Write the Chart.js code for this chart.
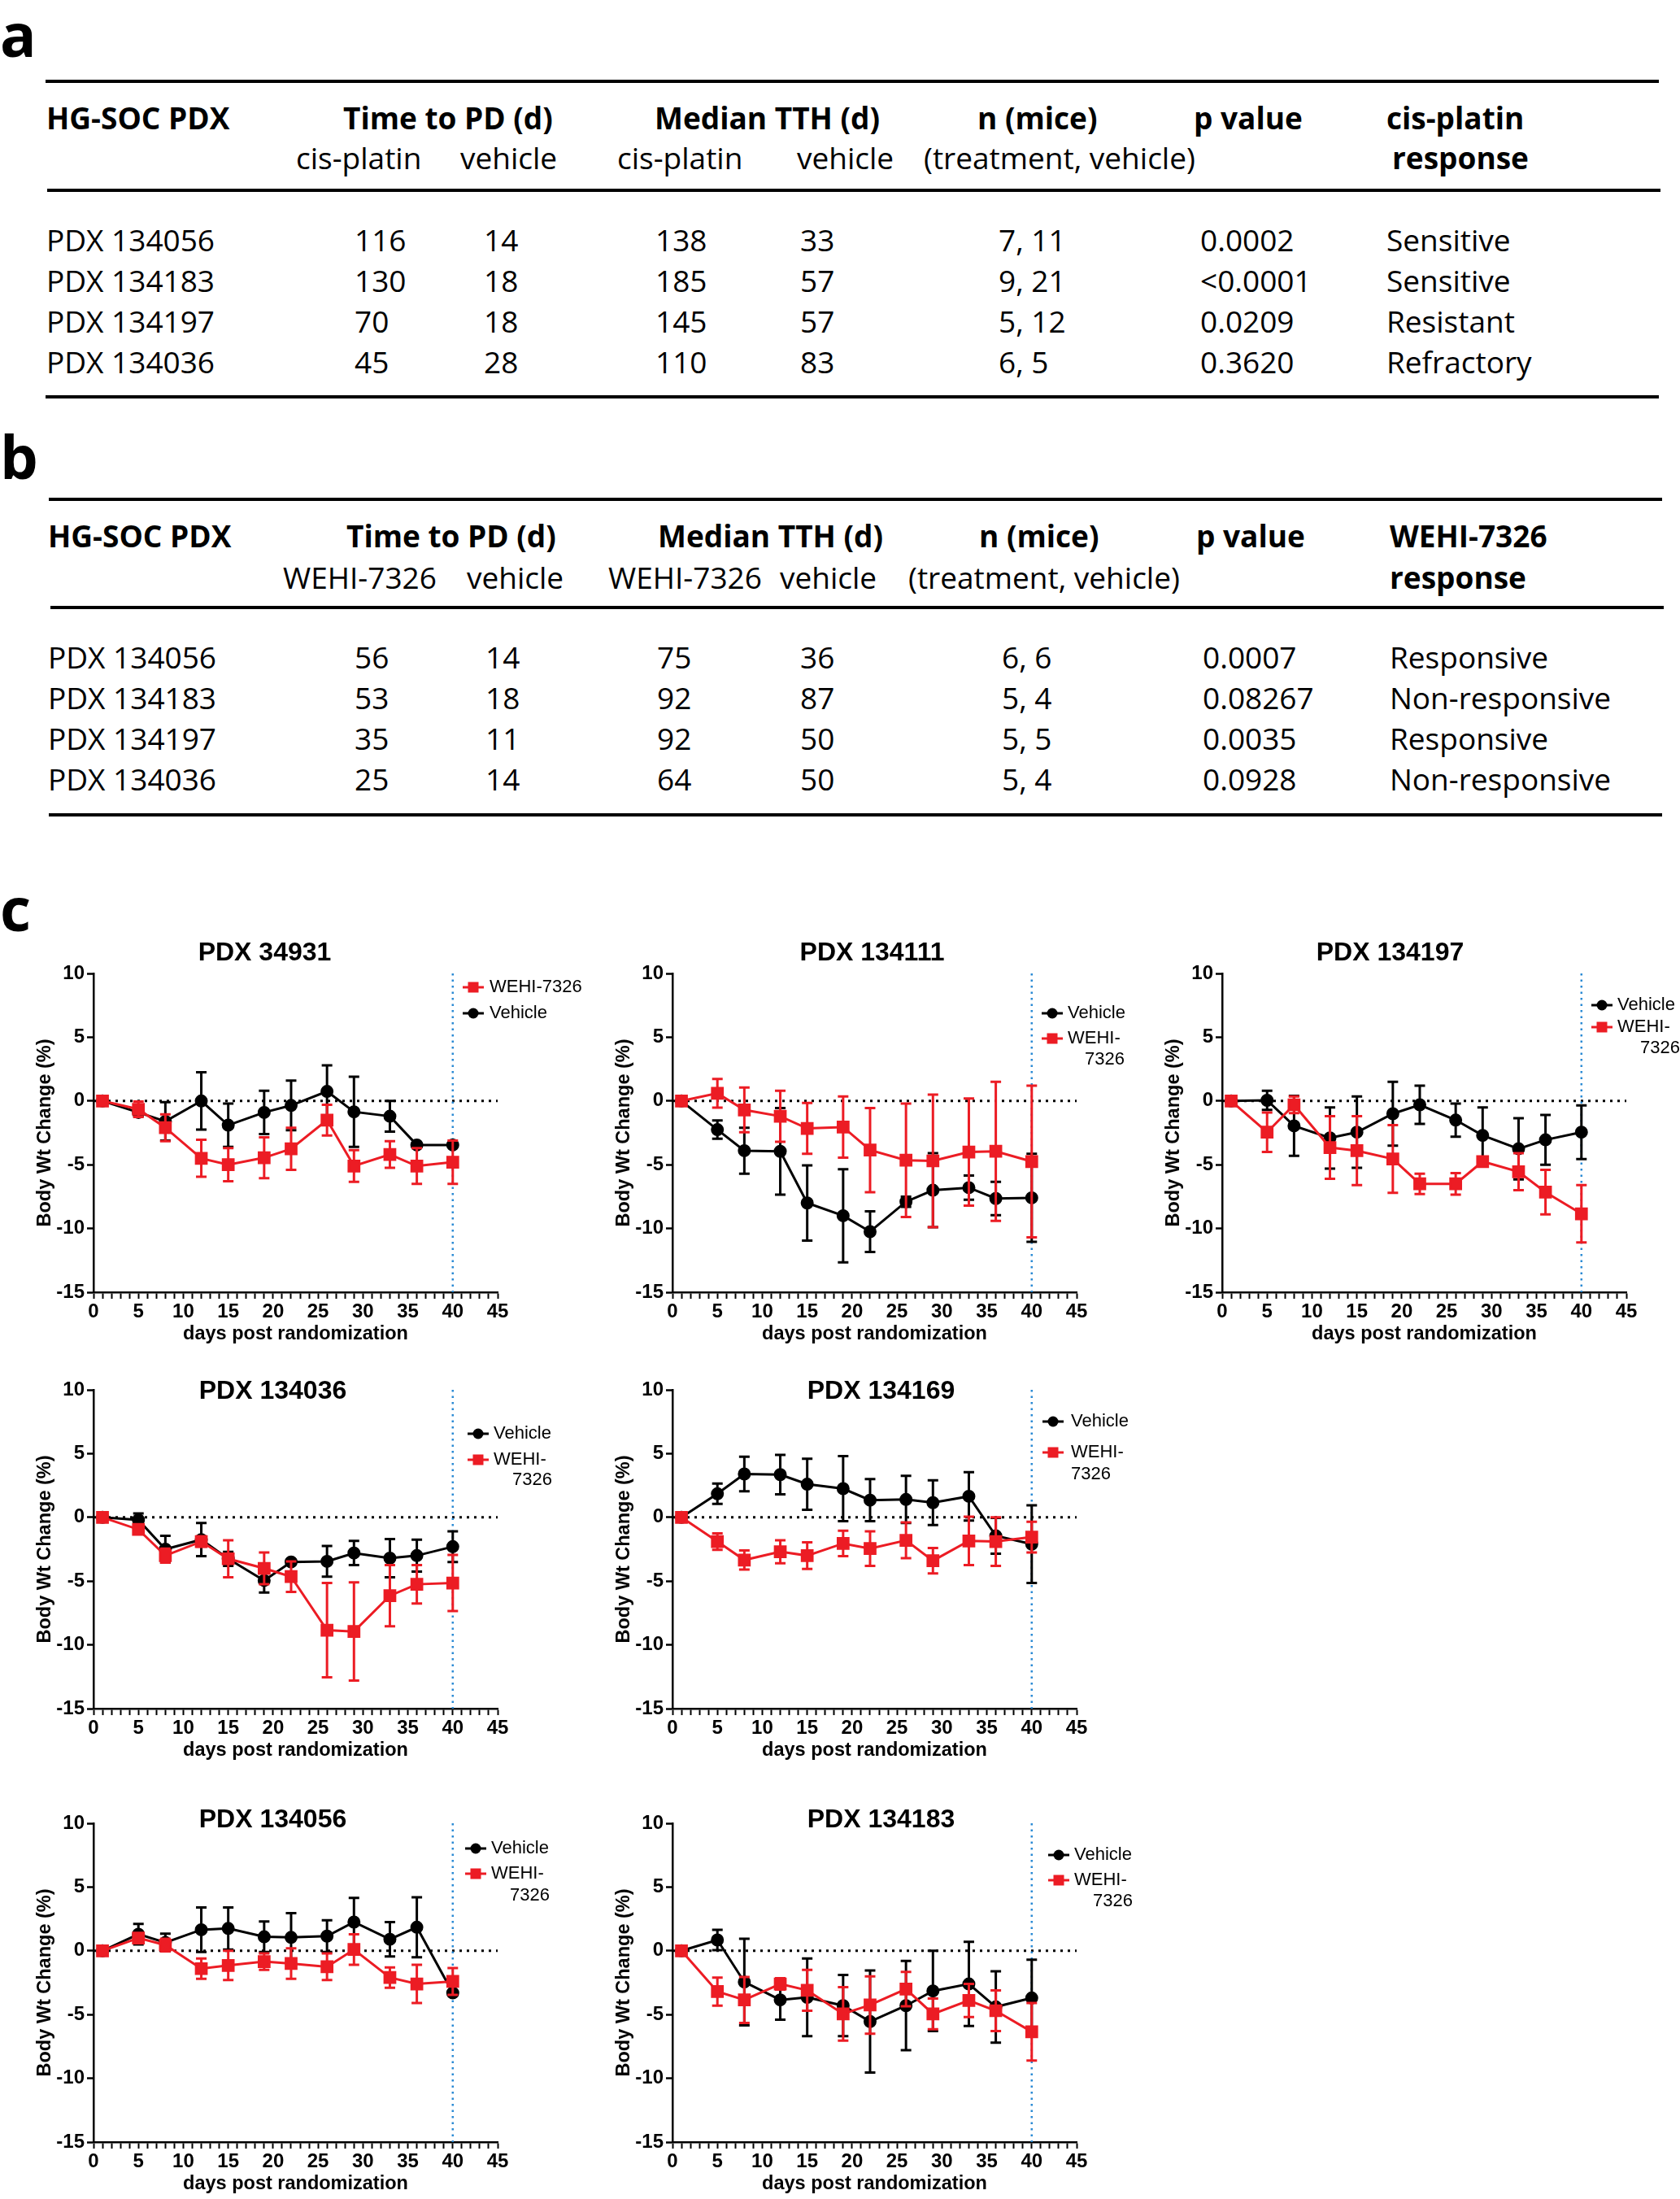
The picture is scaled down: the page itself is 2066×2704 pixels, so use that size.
<!DOCTYPE html>
<html>
<head>
<meta charset="utf-8">
<script src="https://cdn.jsdelivr.net/npm/chart.js@4.4.0/dist/chart.umd.min.js"></script>
<style>
html, body { margin: 0; padding: 0; background: #fff; }
body { width: 2066px; height: 2704px; position: relative; overflow: hidden; font-family: 'Open Sans', sans-serif; color: #000; }
.t { position: absolute; font-size: 37px; line-height: 46px; white-space: nowrap; transform: translateY(-50%); }
.b { font-weight: 700; }
.rule { position: absolute; height: 4px; background: #000; }
.lab { position: absolute; font-size: 74px; font-weight: 700; line-height: 1; }
canvas { position: absolute; }
</style>
</head>
<body>
<script>
'use strict';

// Table a (cis-platin)
const pdxNames = ['PDX 134056', 'PDX 134183', 'PDX 134197', 'PDX 134036'];
const ttpCis = ['116', '130', '70', '45'];
const ttpVehA = ['14', '18', '18', '28'];
const tthCis = ['138', '185', '145', '110'];
const tthVehA = ['33', '57', '57', '83'];
const miceA = ['7, 11', '9, 21', '5, 12', '6, 5'];
const pValA = ['0.0002', '<0.0001', '0.0209', '0.3620'];
const respA = ['Sensitive', 'Sensitive', 'Resistant', 'Refractory'];

// Table b (WEHI-7326)
const ttpWehi = ['56', '53', '35', '25'];
const ttpVehB = ['14', '18', '11', '14'];
const tthWehi = ['75', '92', '92', '64'];
const tthVehB = ['36', '87', '50', '50'];
const miceB = ['6, 6', '5, 4', '5, 5', '5, 4'];
const pValB = ['0.0007', '0.08267', '0.0035', '0.0928'];
const respB = ['Responsive', 'Non-responsive', 'Responsive', 'Non-responsive'];

// Panel c : body weight change (%), mean and error
const days = [1, 5, 8, 12, 15, 19, 22, 26, 29, 33, 36, 40];
const xTickLabels = [0, 5, 10, 15, 20, 25, 30, 35, 40, 45];
const yTickLabels = [10, 5, 0, -5, -10, -15];

const veh34931 = [0, -0.9, -1.6, 0, -1.9, -0.9, -0.35, 0.75, -0.85, -1.2, -3.45, -3.45];
const veh34931Err = [0, 0.3, 1.5, 2.25, 1.7, 1.7, 1.95, 2.05, 2.75, 1.2, 0.1, 0.1];
const wehi34931 = [0, -0.65, -2.1, -4.5, -5.0, -4.45, -3.75, -1.5, -5.1, -4.2, -5.1, -4.8];
const wehi34931Err = [0, 0.6, 1.05, 1.45, 1.3, 1.6, 1.65, 1.2, 1.25, 1.05, 1.4, 1.7];

const veh134111 = [0, -2.25, -3.9, -3.95, -8.0, -9.0, -10.25, -7.9, -7.0, -6.8, -7.65, -7.6];
const veh134111Err = [0, 0.72, 1.8, 3.4, 2.95, 3.65, 1.6, 0.4, 2.9, 0.95, 1.3, 3.45];
const wehi134111 = [0, 0.6, -0.7, -1.2, -2.15, -2.05, -3.85, -4.65, -4.7, -4.0, -3.95, -4.75];
const wehi134111Err = [0, 1.13, 1.75, 2.0, 2.0, 2.4, 3.3, 4.45, 5.2, 4.2, 5.45, 5.95];

const veh134197 = [0, 0.05, -1.95, -2.9, -2.45, -1.0, -0.3, -1.5, -2.7, -3.75, -3.05, -2.45];
const veh134197Err = [0, 0.75, 2.35, 2.4, 2.8, 2.5, 1.5, 1.3, 2.2, 2.4, 1.95, 2.1];
const wehi134197 = [0, -2.45, -0.3, -3.65, -3.9, -4.55, -6.5, -6.5, -4.75, -5.55, -7.15, -8.85];
const wehi134197Err = [0, 1.55, 0.65, 2.45, 2.7, 2.65, 0.8, 0.85, 0.2, 1.45, 1.75, 2.25];

const veh134036 = [0, -0.2, -2.5, -1.75, -3.25, -4.95, -3.5, -3.45, -2.8, -3.2, -3.0, -2.3];
const veh134036Err = [0, 0.5, 1.05, 1.3, 0.55, 0.95, 0.2, 1.2, 0.95, 1.5, 1.25, 1.2];
const wehi134036 = [0, -0.95, -3.0, -1.9, -3.25, -4.0, -4.65, -8.85, -8.95, -6.15, -5.25, -5.15];
const wehi134036Err = [0, 0.35, 0.55, 0.4, 1.45, 1.25, 1.2, 3.7, 3.85, 2.4, 1.5, 2.2];

const veh134169 = [0, 1.85, 3.4, 3.35, 2.6, 2.25, 1.35, 1.4, 1.15, 1.65, -1.45, -2.1];
const veh134169Err = [0, 0.8, 1.35, 1.55, 2.0, 2.55, 1.65, 1.85, 1.75, 1.9, 1.4, 3.05];
const wehi134169 = [0, -1.9, -3.35, -2.7, -3.0, -2.05, -2.45, -1.8, -3.4, -1.85, -1.9, -1.55];
const wehi134169Err = [0, 0.65, 0.75, 0.9, 1.05, 1.0, 1.35, 1.4, 1.0, 1.9, 1.9, 1.2];

const veh134056 = [0, 1.3, 0.65, 1.65, 1.75, 1.1, 1.05, 1.15, 2.25, 0.9, 1.85, -3.3];
const veh134056Err = [0, 0.8, 0.7, 1.75, 1.65, 1.2, 1.9, 1.25, 1.9, 1.35, 2.35, 0.2];
const wehi134056 = [0, 1.0, 0.45, -1.4, -1.15, -0.85, -1.0, -1.25, 0.1, -2.1, -2.6, -2.4];
const wehi134056Err = [0, 0.2, 0.5, 0.8, 1.15, 0.65, 1.2, 1.05, 1.2, 0.8, 1.5, 1.05];

const veh134183 = [0, 0.85, -2.45, -3.85, -3.65, -4.3, -5.55, -4.3, -3.15, -2.6, -4.4, -3.7];
const veh134183Err = [0, 0.8, 3.4, 1.55, 3.05, 2.4, 4.0, 3.5, 3.15, 3.3, 2.8, 3.0];
const wehi134183 = [0, -3.2, -3.85, -2.6, -3.1, -4.95, -4.25, -3.0, -4.95, -3.9, -4.7, -6.35];
const wehi134183Err = [0, 1.1, 1.8, 0.45, 1.6, 2.1, 2.25, 1.35, 1.2, 1.3, 1.6, 2.25];

const RED = '#ec1c24';
const BLUE = '#2a8ad4';
const CFONT = "'Liberation Sans', Arial, sans-serif";

// ---------- tables ----------
function txt(s, x, y, bold) {
  const d = document.createElement('div');
  d.className = 't' + (bold ? ' b' : '');
  d.textContent = s;
  d.style.left = x + 'px';
  d.style.top = y + 'px';
  document.body.appendChild(d);
}
function rule(x1, x2, y) {
  const d = document.createElement('div');
  d.className = 'rule';
  d.style.left = x1 + 'px';
  d.style.width = (x2 - x1) + 'px';
  d.style.top = (y - 2) + 'px';
  document.body.appendChild(d);
}
function label(s, x, y) {
  const d = document.createElement('div');
  d.className = 'lab';
  d.textContent = s;
  d.style.left = x + 'px';
  d.style.top = y + 'px';
  document.body.appendChild(d);
}

label('a', 0, 5);
rule(56, 2040, 100);
txt('HG-SOC PDX', 57, 145, true);
txt('Time to PD (d)', 422, 145, true);
txt('Median TTH (d)', 805, 145, true);
txt('n (mice)', 1202, 145, true);
txt('p value', 1468, 145, true);
txt('cis-platin', 1705, 145, true);
txt('cis-platin', 364, 194);
txt('vehicle', 566, 194);
txt('cis-platin', 759, 194);
txt('vehicle', 980, 194);
txt('(treatment, vehicle)', 1136, 194);
txt('response', 1712, 194, true);
rule(58, 2042, 234);
const colsA = [57, 436, 595, 806, 984, 1228, 1476, 1705];
const colDataA = [pdxNames, ttpCis, ttpVehA, tthCis, tthVehA, miceA, pValA, respA];
[295, 345, 395, 445].forEach((y, r) => {
  colDataA.forEach((col, c) => txt(col[r], colsA[c], y));
});
rule(56, 2040, 488);

label('b', 0, 524);
rule(60, 2044, 614);
txt('HG-SOC PDX', 59, 659, true);
txt('Time to PD (d)', 426, 659, true);
txt('Median TTH (d)', 809, 659, true);
txt('n (mice)', 1204, 659, true);
txt('p value', 1471, 659, true);
txt('WEHI-7326', 1709, 659, true);
txt('WEHI-7326', 348, 710);
txt('vehicle', 574, 710);
txt('WEHI-7326', 748, 710);
txt('vehicle', 959, 710);
txt('(treatment, vehicle)', 1117, 710);
txt('response', 1709, 710, true);
rule(62, 2046, 747);
const colsB = [59, 436, 597, 808, 984, 1232, 1479, 1709];
const colDataB = [pdxNames, ttpWehi, ttpVehB, tthWehi, tthVehB, miceB, pValB, respB];
[808, 858, 908, 958].forEach((y, r) => {
  colDataB.forEach((col, c) => txt(col[r], colsB[c], y));
});
rule(60, 2044, 1002);

label('c', 0, 1080);

// ---------- charts ----------
const PW = 497, PH = 392, YW = 78, PT = 60, XH = 70;

const panels = [
  { title: 'PDX 34931', veh: veh34931, vehErr: veh34931Err, wehi: wehi34931, wehiErr: wehi34931Err,
    left: 115, top: 1197, tdx: -38, tdy: -25, single: true, mx: -30, tx: -10, ly: [17, 49] },
  { title: 'PDX 134111', veh: veh134111, vehErr: veh134111Err, wehi: wehi134111, wehiErr: wehi134111Err,
    left: 827, top: 1197, tdx: -3, tdy: -25, mx: -30, tx: -11, ly: [49, 80, 106], wrapRight: 59 },
  { title: 'PDX 134197', veh: veh134197, vehErr: veh134197Err, wehi: wehi134197, wehiErr: wehi134197Err,
    left: 1503, top: 1197, tdx: -42, tdy: -25, mx: -30, tx: -11, ly: [39, 66, 92], wrapRight: 66 },
  { title: 'PDX 134036', veh: veh134036, vehErr: veh134036Err, wehi: wehi134036, wehiErr: wehi134036Err,
    left: 115, top: 1709, tdx: -28, tdy: 2, mx: -24, tx: -5, ly: [54, 86, 111], wrapRight: 67 },
  { title: 'PDX 134169', veh: veh134169, vehErr: veh134169Err, wehi: wehi134169, wehiErr: wehi134169Err,
    left: 827, top: 1709, tdx: 8, tdy: 2, mx: -29, tx: -7, ly: [39, 77, 104], wrapRight: null },
  { title: 'PDX 134056', veh: veh134056, vehErr: veh134056Err, wehi: wehi134056, wehiErr: wehi134056Err,
    left: 115, top: 2242, tdx: -28, tdy: -4, mx: -27, tx: -8, ly: [31, 62, 89], wrapRight: 64 },
  { title: 'PDX 134183', veh: veh134183, vehErr: veh134183Err, wehi: wehi134183, wehiErr: wehi134183Err,
    left: 827, top: 2242, tdx: 8, tdy: -4, mx: -22, tx: -3, ly: [39, 70, 96], wrapRight: 69 },
];

function toXY(vals) {
  return vals.map((v, i) => ({ x: days[i], y: v }));
}

function legendMark(ctx, x, y, red) {
  ctx.save();
  ctx.strokeStyle = red ? RED : '#000';
  ctx.fillStyle = red ? RED : '#000';
  ctx.lineWidth = 3;
  ctx.beginPath();
  ctx.moveTo(x - 13, y);
  ctx.lineTo(x + 13, y);
  ctx.stroke();
  if (red) {
    ctx.fillRect(x - 6.5, y - 6.5, 13, 13);
  } else {
    ctx.beginPath();
    ctx.arc(x, y, 6.5, 0, Math.PI * 2);
    ctx.fill();
  }
  ctx.restore();
}

function decoFor(p) {
  return {
    id: 'panelDeco',
    beforeDatasetsDraw(chart) {
      const { ctx, scales: { x, y } } = chart;
      ctx.save();
      // zero reference line
      ctx.strokeStyle = '#000';
      ctx.lineWidth = 3;
      ctx.setLineDash([3, 6]);
      ctx.beginPath();
      ctx.moveTo(x.getPixelForValue(0), y.getPixelForValue(0));
      ctx.lineTo(x.getPixelForValue(45), y.getPixelForValue(0));
      ctx.stroke();
      // end of treatment line
      ctx.strokeStyle = BLUE;
      ctx.lineWidth = 2.5;
      ctx.setLineDash([2.5, 5]);
      ctx.beginPath();
      ctx.moveTo(x.getPixelForValue(40), y.getPixelForValue(10));
      ctx.lineTo(x.getPixelForValue(40), y.getPixelForValue(-15));
      ctx.stroke();
      ctx.restore();
    },
    beforeDatasetDraw(chart, args) {
      const ds = chart.data.datasets[args.index];
      const { ctx, scales: { x, y } } = chart;
      ctx.save();
      ctx.strokeStyle = ds.borderColor;
      ctx.lineWidth = 3;
      ds.data.forEach((pt, i) => {
        const e = ds.errors[i];
        if (!e) return;
        const px = x.getPixelForValue(pt.x);
        const top = y.getPixelForValue(pt.y + e);
        const bot = y.getPixelForValue(pt.y - e);
        ctx.beginPath();
        ctx.moveTo(px, top);
        ctx.lineTo(px, bot);
        ctx.moveTo(px - 6.5, top);
        ctx.lineTo(px + 6.5, top);
        ctx.moveTo(px - 6.5, bot);
        ctx.lineTo(px + 6.5, bot);
        ctx.stroke();
      });
      ctx.restore();
    },
    afterDraw(chart) {
      const { ctx, chartArea: a } = chart;
      ctx.save();
      ctx.fillStyle = '#000';
      ctx.font = 'bold 32px ' + CFONT;
      ctx.textAlign = 'center';
      ctx.textBaseline = 'middle';
      ctx.fillText(p.title, (a.left + a.right) / 2 + p.tdx, a.top + p.tdy);

      ctx.font = '22px ' + CFONT;
      ctx.textAlign = 'left';
      const mx = a.right + p.mx, tx = a.right + p.tx;
      if (p.single) {
        legendMark(ctx, mx, a.top + p.ly[0], true);
        ctx.fillText('WEHI-7326', tx, a.top + p.ly[0]);
        legendMark(ctx, mx, a.top + p.ly[1], false);
        ctx.fillText('Vehicle', tx, a.top + p.ly[1]);
      } else {
        legendMark(ctx, mx, a.top + p.ly[0], false);
        ctx.fillText('Vehicle', tx, a.top + p.ly[0]);
        legendMark(ctx, mx, a.top + p.ly[1], true);
        ctx.fillText('WEHI-', tx, a.top + p.ly[1]);
        if (p.wrapRight != null) {
          ctx.textAlign = 'right';
          ctx.fillText('7326', a.right + p.wrapRight, a.top + p.ly[2]);
        } else {
          ctx.fillText('7326', tx, a.top + p.ly[2]);
        }
      }
      ctx.restore();
    }
  };
}

function makeChart(p) {
  const cv = document.createElement('canvas');
  const left = p.left - YW, top = p.top - PT;
  const w = Math.min(700, 2066 - left), h = PT + PH + XH;
  cv.width = w;
  cv.height = h;
  cv.style.left = left + 'px';
  cv.style.top = top + 'px';
  document.body.appendChild(cv);

  const tickFont = { family: CFONT, size: 24, weight: 'bold' };
  const titleFont = { family: CFONT, size: 23.5, weight: 'bold' };

  new Chart(cv, {
    type: 'line',
    data: {
      datasets: [
        { label: 'WEHI-7326', data: toXY(p.wehi), errors: p.wehiErr,
          borderColor: RED, backgroundColor: RED, pointStyle: 'rect', pointRadius: 9,
          borderWidth: 3, tension: 0, order: 0 },
        { label: 'Vehicle', data: toXY(p.veh), errors: p.vehErr,
          borderColor: '#000', backgroundColor: '#000', pointStyle: 'circle', pointRadius: 6.5,
          borderWidth: 3, tension: 0, order: 1 },
      ],
    },
    options: {
      responsive: false,
      animation: false,
      devicePixelRatio: 1,
      layout: { padding: { left: 0, top: PT, right: w - YW - PW, bottom: 0 } },
      plugins: { legend: { display: false }, tooltip: { enabled: false } },
      scales: {
        x: {
          type: 'linear', min: 0, max: 45,
          afterFit: (s) => { s.height = XH; },
          ticks: {
            stepSize: 1, autoSkip: false, maxRotation: 0, padding: 2,
            font: tickFont, color: '#000',
            callback: (v) => (xTickLabels.includes(v) ? String(v) : ''),
          },
          grid: { drawOnChartArea: false, tickLength: 8, tickWidth: 2, color: '#000' },
          border: { color: '#000', width: 2.5 },
          title: { display: true, text: 'days post randomization', font: titleFont, color: '#000',
                   padding: { top: 4, bottom: 4 } },
        },
        y: {
          type: 'linear', min: -15, max: 10,
          afterFit: (s) => { s.width = YW; },
          ticks: {
            stepSize: 5, padding: 3, font: tickFont, color: '#000',
            callback: (v) => (yTickLabels.includes(v) ? String(v) : ''),
          },
          grid: { drawOnChartArea: false, tickLength: 8, tickWidth: 2.5, color: '#000' },
          border: { color: '#000', width: 2.5 },
          title: { display: true, text: 'Body Wt Change (%)', font: titleFont, color: '#000',
                   padding: { top: 4, bottom: 4 } },
        },
      },
    },
    plugins: [decoFor(p)],
  });
}

panels.forEach(makeChart);
</script>
</body>
</html>
